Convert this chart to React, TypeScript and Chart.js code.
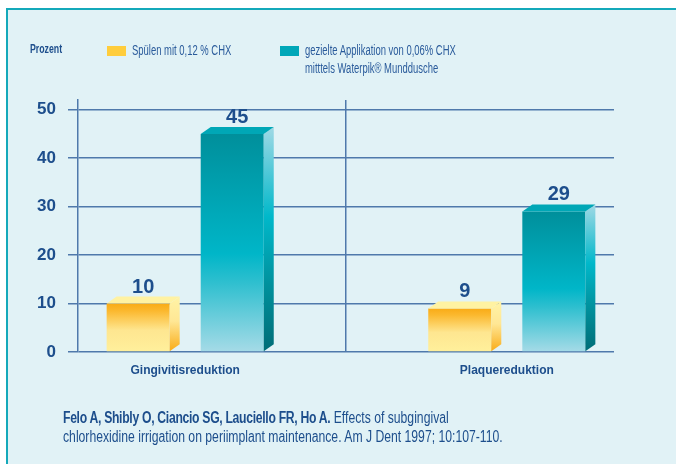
import React, { useEffect, useRef } from 'react';
import { Chart, registerables } from 'chart.js';

Chart.register(...registerables);

// ---------- data ----------
const categories = ['Gingivitisreduktion', 'Plaquereduktion'];
const rinseLabel = 'Spülen mit 0,12 % CHX';
const waterpikLabelLines = ['gezielte Applikation von 0,06% CHX', 'mitttels Waterpik® Munddusche'];
const rinseValues = [10, 9];
const waterpikValues = [45, 29];
const yTickValues = [0, 10, 20, 30, 40, 50];
const yAxisMax = 52;
const yAxisTitle = 'Prozent';
const citationAuthors = 'Felo A, Shibly O, Ciancio SG, Lauciello FR, Ho A.';
const citationLine1 = 'Effects of subgingival';
const citationLine2 = 'chlorhexidine irrigation on periimplant maintenance. Am J Dent 1997; 10:107-110.';

// ---------- styles ----------
const SANS = "'Liberation Sans', Arial, sans-serif";
const DARK_BLUE = '#1D4E8C';
const TEXT_BLUE = '#2A5B9B';
const GRID = '#4F79AB';
const BG = '#E1F2F6';
const FRAME = '#14A9BA';
const DEPTH_X = 10;
const DEPTH_Y = 7;

type Palette = {
  swatch: string;
  front: [number, string][];
  side: [number, string][];
  top: string;
};

const palettes: Palette[] = [
  {
    swatch: '#FFCD3C',
    front: [[0, '#F9AB16'], [0.15, '#FBB82E'], [0.55, '#FEE690'], [1, '#FFF09C']],
    side: [[0, '#FFF3A6'], [0.45, '#FFE795'], [1, '#F9AC18']],
    top: '#FFF2A2',
  },
  {
    swatch: '#00A7B8',
    front: [[0, '#008F9B'], [0.55, '#00B6C8'], [0.68, '#2EBFCF'], [1, '#A6DBE7']],
    side: [[0, '#A0D9E5'], [0.4, '#00B8CA'], [0.7, '#00919D'], [1, '#006D77']],
    top: '#00A7B6',
  },
];

function grad(ctx: CanvasRenderingContext2D, y0: number, y1: number, stops: [number, string][]) {
  const g = ctx.createLinearGradient(0, y0, 0, y1);
  stops.forEach(([o, c]) => g.addColorStop(o, c));
  return g;
}

const bar3d = {
  id: 'bar3d',
  afterDatasetsDraw(chart: any) {
    const ctx: CanvasRenderingContext2D = chart.ctx;
    chart.data.datasets.forEach((ds: any, di: number) => {
      const meta = chart.getDatasetMeta(di);
      const pal = palettes[di];
      meta.data.forEach((bar: any, i: number) => {
        const { x, y, base, width } = bar.getProps(['x', 'y', 'base', 'width'], true);
        const l = x - width / 2;
        const r = x + width / 2;
        ctx.save();
        // side face
        ctx.fillStyle = grad(ctx, y - DEPTH_Y, base, pal.side);
        ctx.beginPath();
        ctx.moveTo(r, y);
        ctx.lineTo(r + DEPTH_X, y - DEPTH_Y);
        ctx.lineTo(r + DEPTH_X, base - DEPTH_Y);
        ctx.lineTo(r, base);
        ctx.closePath();
        ctx.fill();
        // top face
        ctx.fillStyle = pal.top;
        ctx.beginPath();
        ctx.moveTo(l, y);
        ctx.lineTo(l + DEPTH_X, y - DEPTH_Y);
        ctx.lineTo(r + DEPTH_X, y - DEPTH_Y);
        ctx.lineTo(r, y);
        ctx.closePath();
        ctx.fill();
        // value label
        ctx.fillStyle = DARK_BLUE;
        ctx.font = `bold 20px ${SANS}`;
        ctx.textAlign = 'center';
        ctx.textBaseline = 'alphabetic';
        ctx.fillText(String(ds.data[i]), x + DEPTH_X / 2, y - DEPTH_Y - 4);
        ctx.restore();
      });
    });
  },
};

function frontColor(di: number) {
  return (c: any) => {
    const chart = c.chart;
    if (!chart.chartArea || c.raw == null) return palettes[di].swatch;
    const ys = chart.scales.y;
    return grad(chart.ctx, ys.getPixelForValue(c.raw), ys.getPixelForValue(0), palettes[di].front);
  };
}

const condensed = (scale: number): React.CSSProperties => ({
  transform: `scaleX(${scale})`,
  transformOrigin: 'left top',
  whiteSpace: 'nowrap',
});

export default function App() {
  const canvasRef = useRef<HTMLCanvasElement | null>(null);

  useEffect(() => {
    if (!canvasRef.current) return;
    const chart = new Chart(canvasRef.current, {
      type: 'bar',
      data: {
        labels: categories,
        datasets: [
          { label: rinseLabel, data: rinseValues, backgroundColor: frontColor(0), borderWidth: 0 },
          { label: waterpikLabelLines.join(' '), data: waterpikValues, backgroundColor: frontColor(1), borderWidth: 0 },
        ],
      },
      options: {
        responsive: false,
        animation: false,
        events: [],
        layout: { padding: { left: 0, top: 100, right: 62, bottom: 82 } },
        datasets: { bar: { categoryPercentage: 0.585, barPercentage: 0.67 } },
        plugins: { legend: { display: false }, tooltip: { enabled: false }, title: { display: false } },
        scales: {
          x: {
            type: 'category',
            offset: false,
            afterBuildTicks: (s: any) => {
              const pad = 1 / 3;
              s._startValue -= pad;
              s._valueRange += 2 * pad;
            },
            afterFit: (s: any) => { s.height = 30; },
            grid: { display: true, offset: true, drawTicks: false, color: GRID, lineWidth: 1.5 },
            border: { display: false },
            ticks: { color: DARK_BLUE, font: { family: SANS, size: 12, weight: 'bold' }, padding: 11, maxRotation: 0 },
          },
          y: {
            type: 'linear',
            min: 0,
            max: yAxisMax,
            afterBuildTicks: (s: any) => { s.ticks = yTickValues.map((v) => ({ value: v })); },
            afterFit: (s: any) => { s.width = 78; },
            grid: { color: GRID, lineWidth: 1.5, tickLength: 10, tickColor: GRID },
            border: { display: true, color: GRID, width: 1.5 },
            ticks: { color: DARK_BLUE, font: { family: SANS, size: 17, weight: 'bold' }, padding: 12 },
          },
        },
      },
      plugins: [bar3d],
    } as any);
    return () => chart.destroy();
  }, []);

  const swatch = (color: string, left: number) => (
    <div style={{ position: 'absolute', left, top: 46, width: 19, height: 10, background: color }} />
  );

  return (
    <div style={{ position: 'fixed', left: 0, top: 0, width: 676, height: 464, background: '#fff', overflow: 'hidden' }}>
      <div
        style={{
          position: 'absolute', left: 6, top: 8, width: 700, height: 500, background: BG,
          borderTop: `2px solid ${FRAME}`, borderLeft: `2px solid ${FRAME}`,
        }}
      />
      <canvas ref={canvasRef} width={676} height={464} style={{ position: 'absolute', left: 0, top: 0, width: 676, height: 464 }} />
      <div style={{ position: 'absolute', left: 30, top: 40, fontFamily: SANS, fontWeight: 'bold', fontSize: 12, lineHeight: '18px', color: DARK_BLUE, ...condensed(0.73) }}>
        {yAxisTitle}
      </div>
      {swatch(palettes[0].swatch, 107)}
      <div style={{ position: 'absolute', left: 132, top: 41, fontFamily: SANS, fontSize: 14, lineHeight: '18px', color: TEXT_BLUE, ...condensed(0.675) }}>
        {rinseLabel}
      </div>
      {swatch(palettes[1].swatch, 280)}
      <div style={{ position: 'absolute', left: 305, top: 41, fontFamily: SANS, fontSize: 14, lineHeight: '18px', color: TEXT_BLUE, ...condensed(0.675) }}>
        {waterpikLabelLines.map((t, i) => <div key={i}>{t}</div>)}
      </div>
      <div style={{ position: 'absolute', left: 63, top: 408, fontFamily: SANS, fontSize: 16, lineHeight: '19px', color: DARK_BLUE, ...condensed(0.762) }}>
        <div><b style={{ letterSpacing: '-0.4px' }}>{citationAuthors}</b> {citationLine1}</div>
        <div>{citationLine2}</div>
      </div>
    </div>
  );
}
